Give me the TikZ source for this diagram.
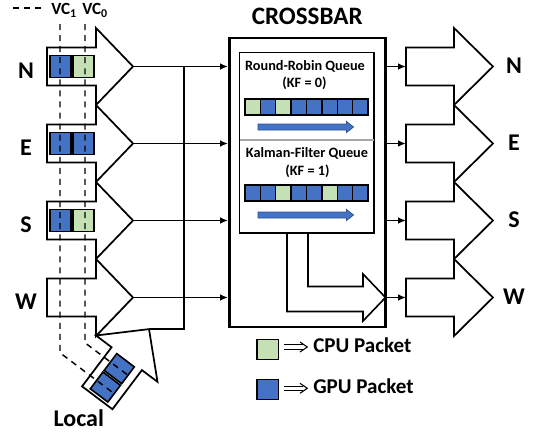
\documentclass[tikz,border=0pt]{standalone}
\usepackage{fontspec}
\setmainfont{Carlito}
\usetikzlibrary{arrows.meta,calc}
\definecolor{gpublue}{HTML}{4472C4}
\definecolor{cpugreen}{HTML}{C5E0B4}
\definecolor{arrowedge}{HTML}{2F528F}
\begin{document}
\begin{tikzpicture}[x=0.75pt,y=-0.75pt,
  outline/.style={draw=black,line width=1.3pt,fill=white,line join=miter,miter limit=10},
  cellbox/.style={draw=black,line width=1.2pt},
  qcell/.style={draw=black,line width=1pt},
  vcline/.style={draw=black,line width=1.1pt,dash pattern=on 4.5pt off 3.8pt},
  conn/.style={draw=black,line width=1.1pt},
  tipend/.style={-{Latex[length=6pt,width=5pt]}},
  qarrow/.style={draw=arrowedge,fill=gpublue,line width=0.6pt},
  implline/.style={draw=black,line width=0.8pt},
  lbl/.style={inner sep=0pt,font=\fontsize{18}{20}\selectfont\bfseries},
  qtext/.style={inner sep=0pt,font=\fontsize{10.7}{12}\selectfont\bfseries},
  vctext/.style={inner sep=0pt,font=\fontsize{12.8}{14}\selectfont\bfseries},
  legtext/.style={inner sep=0pt,font=\fontsize{15.8}{18}\selectfont\bfseries}]
\useasboundingbox (0,0) rectangle (536,432);
\fill[white] (0,0) rectangle (536,432);

% input arrows
\foreach \cy [count=\i] in {66.5,143.5,220.5,297.5}{
  \draw[outline] (47,\cy-19) -- (96,\cy-19) -- (96,\cy-38.5) -- (133,\cy) -- (96,\cy+38.5) -- (96,\cy+19) -- (47,\cy+19) -- cycle;
  \coordinate (in\i) at (133,\cy);
}
% input VC cells
\foreach \cy/\ca/\cb in {66.5/gpublue/cpugreen,143.5/gpublue/gpublue,220.5/gpublue/cpugreen}{
  \draw[cellbox,fill=\ca] (50,\cy-11) rectangle (71,\cy+11);
  \draw[cellbox,fill=\cb] (73,\cy-11) rectangle (94,\cy+11);
}
% local arrow
\begin{scope}[shift={(96,335.5)},rotate=53]
  \draw[outline] (0,0) -- (37,38.5) -- (0,77) -- (0,57.5) -- (-49,57.5) -- (-49,19.5) -- (0,19.5) -- cycle;
  \coordinate (locapex) at (37,38.5);
  \draw[cellbox,fill=gpublue] (-46,27.5) -- (-25,27.5) -- (-25,49.5) -- (-46,49.5) -- cycle;
  \draw[cellbox,fill=gpublue] (-23,27.5) -- (-2,27.5) -- (-2,49.5) -- (-23,49.5) -- cycle;
  \coordinate (lc1) at (-35.5,48);
  \coordinate (lc0) at (-12.5,48);
\end{scope}
% VC dashed lines
\draw[vcline] (60,24) -- (60,352.8) -- (lc1);
\draw[vcline] (85,24) -- (85,342.8) -- (lc0);

% output arrows
\foreach \cy [count=\i] in {66.5,143.5,220.5,297.5}{
  \draw[outline] (406,\cy-19) -- (454,\cy-19) -- (454,\cy-38.5) -- (493,\cy) -- (454,\cy+38.5) -- (454,\cy+19) -- (406,\cy+19) -- cycle;
  \coordinate (out\i) at (406,\cy);
}

% crossbar
\node[draw=black,line width=2.2pt,minimum width=117pt,minimum height=216.75pt,inner sep=0pt] (xbar) at (307.5,182.5) {};
\node[inner sep=0pt,font=\fontsize{18.8}{20}\selectfont\bfseries,anchor=base] (xtitle) at (307.2,25) {CROSSBAR};
\draw[line width=1.1pt,fill=white] (239.5,52.5) rectangle (374,233);
\draw[black!35,line width=1pt] (240,140) -- (373.5,140);
\node[qtext,anchor=base] (rrtitle) at (305,70) {Round-Robin Queue};
\node[qtext,anchor=base] (rrkf) at (304.5,87.3) {(KF = 0)};
\node[qtext,anchor=base] (kftitle) at (307,157.3) {Kalman-Filter Queue};
\node[qtext,anchor=base] (kfkf) at (307.5,175) {(KF = 1)};
\foreach \col [count=\k from 0] in {cpugreen,gpublue,cpugreen,gpublue,gpublue,gpublue,gpublue,gpublue}
  \draw[qcell,fill=\col] ({245+\k*15.375},99) rectangle ++(15.375,16);
\foreach \col [count=\k from 0] in {gpublue,gpublue,cpugreen,gpublue,gpublue,cpugreen,gpublue,gpublue}
  \draw[qcell,fill=\col] ({245+\k*15.375},185) rectangle ++(15.375,16);
\foreach \qy in {127,215}
  \draw[qarrow] (258,\qy-3) -- (346.5,\qy-3) -- (346.5,\qy-5.5) -- (353.5,\qy) -- (346.5,\qy+5.5) -- (346.5,\qy+3) -- (258,\qy+3) -- cycle;
% bent arrow inside crossbar
\draw[line width=1.2pt,line join=miter] (287,233) -- (287,311.5) -- (363,311.5) -- (363,321) -- (385.5,297.5) -- (363,274) -- (363,286.5) -- (308,286.5) -- (308,233);

% connectors
\coordinate (busx) at (184,0);
\foreach \i in {1,...,4}
  \draw[conn,tipend] (in\i) -- (in\i -| xbar.west);
\draw[conn,line join=miter] (in1 -| busx) -- (locapex -| busx) -- (locapex);
\foreach \i in {1,...,4}
  \draw[conn,tipend] (xbar.east |- out\i) -- (out\i);

% labels
\foreach \cy/\t [count=\i] in {66.5/N,143.5/E,220.5/S,297.5/W}{
  \node[lbl,anchor=base] (inl\i) at (26,\cy+11.8) {\t};
  \node[lbl,anchor=base] (outl\i) at (514,\cy+7.3) {\t};
}
\node[lbl,anchor=base west] (loclbl) at (53.3,426.7) {Local};

% VC legend
\draw[vcline] (13,8) -- (42,8);
\node[vctext,anchor=base west] (vc1) at (51,15) {VC\textsubscript{1}};
\node[vctext,anchor=base west] (vc0) at (82,15) {VC\textsubscript{0}};

% packet legend
\draw[cellbox,fill=cpugreen] (256.7,339.5) rectangle (278.3,359.5);
\draw[cellbox,fill=gpublue] (256.7,379.5) rectangle (278.3,399.5);
\foreach \ly in {347,388.3}{
  \draw[implline] (284.3,\ly-2.2) -- (302.5,\ly-2.2);
  \draw[implline] (284.3,\ly+2.2) -- (302.5,\ly+2.2);
  \draw[implline,line join=miter] (300,\ly-5) -- (307.3,\ly) -- (300,\ly+5);
}
\node[legtext,anchor=base west] (cpul) at (313,352.7) {CPU Packet};
\node[legtext,anchor=base west] (gpul) at (313,393.3) {GPU Packet};
\end{tikzpicture}
\end{document}
